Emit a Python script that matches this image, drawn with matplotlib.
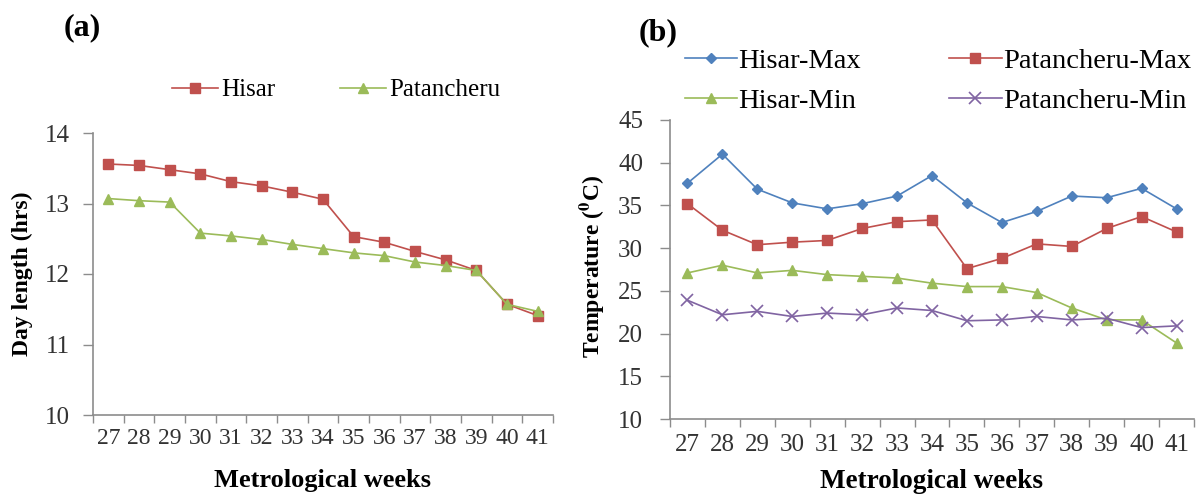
import numpy as np
import matplotlib
matplotlib.use("Agg")
import matplotlib.pyplot as plt

plt.rcParams['font.family'] = ['Liberation Serif', 'DejaVu Serif']
plt.rcParams['mathtext.fontset'] = 'stix'

# weeks shared by both panels
weeks = [str(w) for w in range(27, 42)]

# panel (a): day length (hrs)
hisar_day = [13.56, 13.54, 13.48, 13.42, 13.31, 13.25, 13.16, 13.06,
             12.53, 12.45, 12.32, 12.20, 12.05, 11.57, 11.41]
patan_day = [13.07, 13.04, 13.02, 12.58, 12.54, 12.49, 12.42, 12.36,
             12.30, 12.26, 12.17, 12.12, 12.05, 11.57, 11.47]

# panel (b): temperature
hisar_max = [37.6, 41.0, 36.9, 35.3, 34.6, 35.2, 36.1, 38.5,
             35.3, 33.0, 34.3, 36.1, 35.9, 37.0, 34.6]
patan_max = [35.2, 32.1, 30.4, 30.7, 30.9, 32.3, 33.1, 33.3,
             27.6, 28.8, 30.5, 30.2, 32.3, 33.7, 31.9]
hisar_min = [27.1, 28.0, 27.1, 27.4, 26.9, 26.7, 26.5, 25.9,
             25.5, 25.5, 24.8, 23.0, 21.6, 21.6, 18.9]
patan_min = [23.9, 22.2, 22.6, 22.0, 22.4, 22.2, 23.0, 22.7,
             21.5, 21.6, 22.0, 21.6, 21.8, 20.7, 20.9]

BLUE = '#4F81BD'
RED = '#C0504D'
GREEN = '#9BBB59'
PURPLE = '#8064A2'
AXC = '#8c8c8c'
TXT = '#333333'

W, H = 1201, 495
fig = plt.figure(figsize=(W / 100, H / 100), dpi=100)


def px_axes(x0, y0, x1, y1):
    return fig.add_axes([x0 / W, 1 - y1 / H, (x1 - x0) / W, (y1 - y0) / H])


def px_text(x, y, s, **kw):
    return fig.text(x / W, 1 - y / H, s, ha='center', va='center', **kw)


def style(ax, yticks, xsize, xpad, ypad):
    x = np.arange(len(weeks))
    ax.set_xlim(-0.5, len(weeks) - 0.5)
    ax.set_xticks(x)
    ax.set_xticklabels(weeks)
    ax.set_xticks(np.arange(-0.5, len(weeks)), minor=True)
    ax.tick_params(axis='x', which='major', length=0, pad=xpad,
                   labelsize=xsize, labelcolor=TXT)
    ax.tick_params(axis='x', which='minor', length=5.8, color=AXC, width=1)
    ax.set_yticks(yticks)
    ax.tick_params(axis='y', length=7.2, color=AXC, width=1, pad=ypad,
                   labelsize=18, labelcolor=TXT)
    for s in ['top', 'right']:
        ax.spines[s].set_visible(False)
    for s in ['left', 'bottom']:
        ax.spines[s].set_color(AXC)
        ax.spines[s].set_linewidth(1.2)
    return x


# ---- panel (a)
ax1 = px_axes(93, 133, 553, 415)
x = style(ax1, [10, 11, 12, 13, 14], xsize=17, xpad=9.5, ypad=9.4)
ax1.set_ylim(10, 14)
ax1.plot(x, hisar_day, color=RED, marker='s', markersize=7, lw=1.2,
         label='Hisar')
ax1.plot(x, patan_day, color=GREEN, marker='^', markersize=7.5, lw=1.2,
         label='Patancheru')
px_text(323, 480, 'Metrological weeks', fontsize=19, fontweight='bold')
px_text(22, 274, 'Day length (hrs)', fontsize=17, fontweight='bold',
        rotation=90)
ax1.legend(loc='center left', bbox_to_anchor=(172 / W, 1 - 90 / H),
           bbox_transform=fig.transFigure, ncol=2, frameon=False,
           fontsize=18, handlelength=1.84, handletextpad=0.12,
           columnspacing=2.6, borderpad=0, borderaxespad=0)
px_text(82, 28, '(a)', fontsize=23, fontweight='bold')

# ---- panel (b)
ax2 = px_axes(670, 120, 1194, 419)
x = style(ax2, [10, 15, 20, 25, 30, 35, 40, 45], xsize=18, xpad=10.5,
          ypad=12.2)
ax2.set_ylim(10, 45)
ax2.plot(x, hisar_max, color=BLUE, marker='D', markersize=5, lw=1.2,
         label='Hisar-Max')
ax2.plot(x, hisar_min, color=GREEN, marker='^', markersize=7.5, lw=1.2,
         label='Hisar-Min')
ax2.plot(x, patan_max, color=RED, marker='s', markersize=7, lw=1.2,
         label='Patancheru-Max')
ax2.plot(x, patan_min, color=PURPLE, marker='x', markersize=8.5, lw=1.2,
         mew=1.2, label='Patancheru-Min')
px_text(931, 482, 'Metrological weeks', fontsize=19.5, fontweight='bold')
px_text(591, 266, r'Temperature ($\mathbf{^{0}}$C)', fontsize=17,
        fontweight='bold', rotation=90)
ax2.legend(loc='center left', bbox_to_anchor=(685 / W, 1 - 81 / H),
           bbox_transform=fig.transFigure, ncol=2, frameon=False,
           fontsize=20.5, handlelength=1.83, handletextpad=0.05,
           columnspacing=3.1, labelspacing=0.47, borderpad=0,
           borderaxespad=0)
px_text(658, 33, '(b)', fontsize=23, fontweight='bold')

fig.savefig('out.png', dpi=100)
